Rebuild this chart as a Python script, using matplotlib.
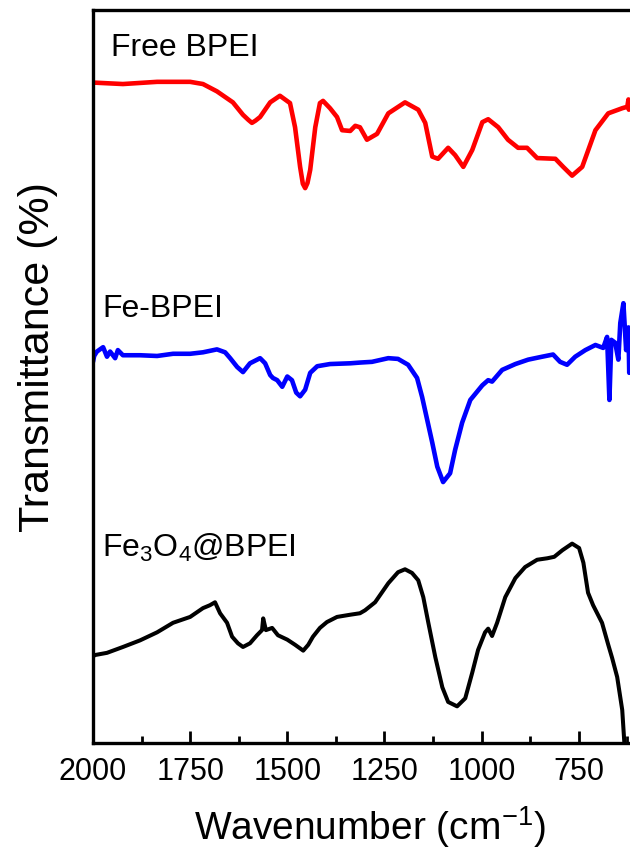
import matplotlib
matplotlib.use("Agg")
import matplotlib.pyplot as plt
from matplotlib.ticker import MultipleLocator, NullLocator

plt.rcParams['font.family'] = ['Liberation Sans', 'DejaVu Sans']
plt.rcParams['mathtext.fontset'] = 'custom'
plt.rcParams['mathtext.rm'] = 'Liberation Sans'
plt.rcParams['mathtext.it'] = 'Liberation Sans:italic'
plt.rcParams['mathtext.default'] = 'regular'

# ---- data (wavenumber cm^-1, transmittance in arbitrary offset units) ----
free_wn = [2000, 1923, 1835, 1750, 1717, 1681, 1640, 1614, 1600, 1591, 1582, 1570, 1544, 1519,
           1493, 1480, 1467, 1460, 1454, 1448, 1441, 1428, 1416, 1408, 1390, 1372, 1359, 1338,
           1325, 1313, 1295, 1269, 1240, 1197, 1163, 1145, 1127, 1112, 1086, 1068, 1047, 1024,
           998, 983, 957, 932, 906, 883, 857, 810, 790, 767, 741, 707, 674, 638, 625, 622, 621]
free_T = [90.1, 89.9, 90.2, 90.2, 89.9, 88.9, 87.4, 85.7, 85.0, 84.6, 84.9, 85.4, 87.4, 88.3,
          87.3, 84.0, 78.6, 76.3, 75.7, 76.4, 78.2, 84.0, 87.3, 87.6, 86.6, 85.4, 83.6, 83.5,
          84.2, 84.0, 82.3, 83.1, 85.9, 87.4, 86.4, 84.6, 80.0, 79.7, 81.2, 80.2, 78.6, 80.9,
          84.7, 85.1, 84.0, 82.3, 81.2, 81.2, 79.8, 79.7, 78.6, 77.4, 78.6, 83.6, 85.9, 86.6,
          86.8, 87.8, 86.4]

fe_wn = [2000, 1997, 1990, 1974, 1964, 1956, 1943, 1936, 1923, 1879, 1835, 1794, 1750, 1717,
         1681, 1660, 1647, 1629, 1614, 1596, 1570, 1557, 1544, 1537, 1526, 1513, 1500, 1488,
         1477, 1467, 1454, 1441, 1423, 1390, 1338, 1313, 1282, 1240, 1215, 1189, 1166, 1153,
         1140, 1127, 1114, 1099, 1081, 1068, 1050, 1029, 998, 983, 973, 947, 913, 880, 844,
         816, 798, 780, 759, 733, 707, 687, 677, 671, 666, 656, 648, 643, 635, 628, 622, 620]
fe_T = [52.0, 52.8, 53.4, 54.0, 52.7, 53.4, 52.5, 53.6, 52.9, 52.9, 52.8, 53.1, 53.1, 53.3,
        53.7, 53.3, 52.5, 51.3, 50.6, 51.8, 52.5, 51.8, 50.2, 49.8, 49.5, 48.6, 50.0, 49.5,
        47.8, 47.3, 48.2, 50.5, 51.4, 51.7, 51.8, 51.9, 52.0, 52.5, 52.4, 51.6, 49.8, 47.2,
        44.1, 41.0, 37.7, 35.6, 36.8, 40.0, 43.7, 46.8, 48.8, 49.5, 49.3, 50.9, 51.7, 52.3,
        52.7, 53.0, 52.0, 51.6, 52.7, 53.6, 54.3, 53.9, 55.4, 46.8, 55.0, 54.6, 52.3, 57.3,
        60.0, 53.6, 56.7, 50.5]

fe3o4_wn = [2000, 1995, 1964, 1923, 1879, 1835, 1794, 1750, 1717, 1699, 1686, 1673, 1655, 1642,
            1627, 1614, 1596, 1578, 1565, 1562, 1555, 1539, 1524, 1500, 1480, 1459, 1446, 1434,
            1416, 1398, 1372, 1338, 1313, 1300, 1274, 1240, 1215, 1197, 1179, 1163, 1150, 1137,
            1119, 1101, 1086, 1063, 1042, 1024, 1009, 991, 983, 973, 960, 939, 913, 888, 857,
            831, 813, 792, 767, 749, 738, 726, 713, 690, 674, 664, 651, 638, 633, 630]
fe3o4_T = [11.8, 12.0, 12.3, 13.1, 14.0, 15.1, 16.4, 17.2, 18.4, 18.8, 19.2, 17.7, 16.4, 14.5,
           13.6, 13.1, 13.6, 14.7, 15.4, 17.0, 15.4, 15.7, 14.7, 14.1, 13.4, 12.6, 13.4, 14.5,
           15.7, 16.5, 17.2, 17.5, 17.7, 18.1, 19.2, 21.8, 23.3, 23.7, 23.2, 22.2, 19.9, 16.4,
           11.7, 7.6, 5.6, 5.0, 6.1, 9.6, 12.7, 15.1, 15.6, 14.6, 16.4, 19.9, 22.5, 24.0, 25.0,
           25.2, 25.4, 26.3, 27.2, 26.6, 24.6, 20.5, 18.8, 16.4, 13.4, 11.6, 9.0, 4.5, 0.4, -2.0]

x_ticks = [2000, 1750, 1500, 1250, 1000, 750]
labels = ['Free BPEI', 'Fe-BPEI', 'Fe$_{3}$O$_{4}$@BPEI']

W, H = 630, 857
fig = plt.figure(figsize=(W / 100, H / 100), dpi=100)
ax = fig.add_axes([93 / W, 1 - 743 / H, (637 - 93) / W, (743 - 10) / H])

ax.plot(free_wn, free_T, color='#ff0000', lw=3.3, solid_joinstyle='round', solid_capstyle='round')
ax.plot(fe_wn, fe_T, color='#0000ff', lw=3.3, solid_joinstyle='round', solid_capstyle='round')
ax.plot(fe3o4_wn, fe3o4_T, color='black', lw=2.9, solid_joinstyle='round', solid_capstyle='round')

ax.set_xlim(2000, 600)
ax.set_ylim(0, 100)
ax.set_xticks(x_ticks)
ax.set_xticklabels([str(t) for t in x_ticks])
ax.xaxis.set_minor_locator(MultipleLocator(125))
ax.yaxis.set_major_locator(NullLocator())
ax.tick_params(axis='x', which='major', direction='in', length=8.5, width=2, labelsize=22, pad=10,
               top=False)
ax.tick_params(axis='x', which='minor', direction='in', length=5, width=2, top=False)
for s in ax.spines.values():
    s.set_linewidth(2.4)

fig.text(111 / W, 1 - 56 / H, labels[0], fontsize=23, va='baseline', ha='left')
fig.text(102 / W, 1 - 317 / H, labels[1], fontsize=23, va='baseline', ha='left')
fig.text(102 / W, 1 - 557 / H, labels[2], fontsize=23, va='baseline', ha='left')

fig.text(370 / W, 1 - 840 / H, 'Wavenumber (cm$^{-1}$)', fontsize=28, va='baseline', ha='center')
fig.text(38 / W, 1 - 357 / H, 'Transmittance (%)', fontsize=31, va='center', ha='center',
         rotation=90)

fig.savefig('out.png', dpi=100)
